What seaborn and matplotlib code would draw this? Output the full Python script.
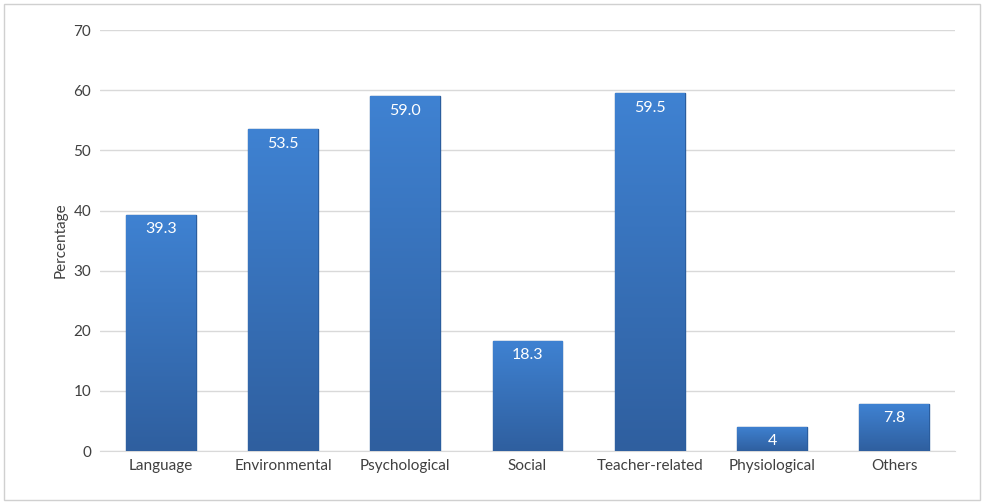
import numpy as np
import matplotlib
matplotlib.use("Agg")
import matplotlib.pyplot as plt
import seaborn as sns
import pandas as pd
from matplotlib.patches import Rectangle

# Data
categories = ["Language", "Environmental", "Psychological", "Social",
              "Teacher-related", "Physiological", "Others"]
values = [39.3, 53.5, 59.0, 18.3, 59.5, 4.0, 7.8]
value_labels = ["39.3", "53.5", "59.0", "18.3", "59.5", "4", "7.8"]

sns.set_style("white")
plt.rcParams['font.family'] = ['Lato', 'DejaVu Sans']

df = pd.DataFrame({"Category": categories, "Percentage": values})

fig = plt.figure(figsize=(9.86, 5.04), dpi=100)
ax = fig.add_axes([0.101, 0.105, 0.868, 0.835])

sns.barplot(data=df, x="Category", y="Percentage", color="#3b7bcc",
            width=0.57, edgecolor="#2a5d9e", linewidth=1.0, ax=ax, zorder=3)

# vertical gradient overlay on each bar
grad = np.linspace(0, 1, 256).reshape(-1, 1)
cmap = matplotlib.colors.LinearSegmentedColormap.from_list(
    "bar", ["#2f5f9f", "#3f82d2"])
for p in ax.patches:
    x0, y0 = p.get_x(), p.get_y()
    w, h = p.get_width(), p.get_height()
    im = ax.imshow(grad, extent=[x0, x0 + w, y0, y0 + h], origin="lower",
                   cmap=cmap, aspect="auto", zorder=3.5)
    im.set_clip_path(p)

for i, (v, lab) in enumerate(zip(values, value_labels)):
    ax.text(i, v - 1.2, lab, ha="center", va="top", color="white",
            fontsize=11.5, zorder=5)

ax.set_xlim(-0.5, len(categories) - 0.5)
ax.set_ylim(0, 70)
ax.set_yticks(range(0, 71, 10))
ax.yaxis.grid(True, color="#d9d9d9", linewidth=1, zorder=0)
ax.set_axisbelow(True)
ax.set_xlabel("")
ax.set_ylabel("Percentage", fontsize=11, color="#404040")
ax.tick_params(axis="both", length=0, labelsize=11, colors="#404040", pad=6)
for s in ["top", "right", "left"]:
    ax.spines[s].set_visible(False)
ax.spines["bottom"].set_color("#d9d9d9")

# outer chart border
fig.patches.append(Rectangle((0.004, 0.008), 0.99, 0.984, transform=fig.transFigure,
                             fill=False, edgecolor="#d0d0d0", linewidth=1))

fig.savefig("out.png", dpi=100)
